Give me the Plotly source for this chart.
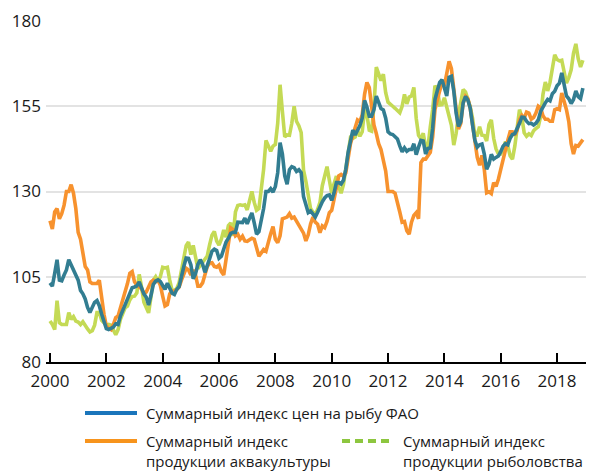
import plotly.graph_objects as go

# Monthly index values, January 2000 - December 2018
fao_index = [
    103.2, 102.2, 106.0, 110.0, 104.0, 103.8, 105.5, 107.0, 110.0, 108.5, 107.0, 106.0,
    104.0, 101.0, 100.0, 98.5, 96.0, 94.5, 96.0, 97.5, 98.0, 96.5, 94.0, 92.0,
    89.8, 89.5, 90.0, 90.2, 91.2, 91.0, 93.5, 95.2, 96.8, 98.8, 100.8, 101.8,
    102.0, 102.3, 103.5, 101.5, 100.0, 99.0, 96.7, 99.5, 102.7, 103.7, 104.1, 103.6,
    102.2, 101.3, 103.1, 101.5, 100.2, 99.8, 101.3, 102.1, 105.4, 108.0, 110.5, 110.4,
    108.5, 104.4, 105.9, 108.6, 110.0, 108.7, 106.3, 108.1, 110.3, 112.5, 113.1, 112.7,
    110.4, 111.0, 113.6, 115.2, 116.3, 117.7, 118.0, 118.0, 121.0, 121.0, 120.9, 122.2,
    120.5, 122.2, 123.7, 120.8, 117.5, 118.2, 121.2, 125.0, 130.0, 130.0, 130.8, 129.8,
    131.5, 135.5, 144.3, 141.0, 134.6, 132.1, 136.4, 137.3, 137.0, 135.9, 136.4, 135.5,
    128.5, 126.1, 123.8, 124.3, 123.2, 122.5, 123.9, 125.6, 127.0, 128.1, 128.8, 129.0,
    127.4, 129.6, 132.6, 132.6, 132.2, 133.3, 136.5, 141.5, 144.5, 148.0, 146.6, 148.0,
    149.3, 151.5, 156.7, 154.8, 152.1, 152.1, 154.0, 158.0, 156.0, 154.3, 153.9, 151.5,
    147.5, 146.9, 146.7, 146.1, 145.4, 143.4, 141.6, 142.8, 141.8, 142.3, 142.3, 144.0,
    140.8, 143.0, 145.0, 144.8, 141.0, 142.6, 142.8, 148.5, 157.0, 159.6, 162.0, 162.8,
    160.8, 158.0, 163.5, 163.8, 159.5, 153.0, 149.1, 150.5, 156.0, 157.9, 156.8, 154.5,
    149.5, 145.0, 143.0, 143.7, 143.9, 141.0, 136.5, 138.0, 140.9, 139.5, 140.0, 140.4,
    141.7, 143.3, 144.0, 143.7, 145.6, 146.7, 147.0, 148.3, 150.0, 151.8, 151.7, 150.6,
    149.9, 150.0, 149.5, 150.0, 151.0, 153.5, 155.0, 156.0, 157.0, 156.6, 158.7, 159.4,
    161.0, 161.8, 164.8, 161.5, 158.0, 157.2, 155.8, 157.0, 159.5, 157.8, 157.2, 160.3,
]

aquaculture_index = [
    121.4, 119.0, 124.0, 125.0, 122.0, 123.5, 126.0, 130.0, 130.0, 132.0, 129.5, 125.0,
    118.0, 116.0, 112.0, 108.0, 107.0, 103.5, 103.0, 103.0, 103.0, 104.0, 98.0, 94.0,
    90.5, 90.0, 89.5, 91.0, 93.0, 93.5, 96.0, 97.5, 100.0, 103.0, 106.0, 106.5,
    103.5, 102.5, 102.0, 101.5, 100.0, 100.5, 102.0, 103.5, 104.0, 103.5, 104.0, 102.5,
    99.3, 96.4, 96.8, 100.0, 100.8, 100.8, 101.2, 102.0, 104.0, 106.0, 107.5, 107.0,
    105.5, 107.0, 105.5, 102.2, 102.2, 103.2, 106.0, 108.0, 109.0, 109.1, 108.0, 107.8,
    108.4, 106.5, 105.5, 110.0, 114.5, 119.3, 118.8, 117.0, 117.5, 116.0, 116.9, 115.5,
    115.4, 116.0, 116.3, 116.0, 113.5, 111.0, 112.0, 113.0, 112.5, 115.5, 117.6, 119.7,
    116.0, 115.0, 117.0, 122.0, 122.2, 122.5, 123.5, 122.2, 122.5, 121.2, 120.0, 119.0,
    117.8, 115.5, 117.3, 120.5, 122.5, 121.0, 120.4, 117.9, 119.9, 119.4, 121.2, 123.8,
    124.5, 127.7, 130.8, 134.6, 135.0, 134.5, 135.5, 140.0, 144.0, 146.5, 148.5, 151.0,
    150.5, 152.5, 158.5, 162.0, 160.5, 154.0, 149.5, 147.0, 144.0, 142.3, 139.3, 136.0,
    130.0, 130.0, 130.0, 129.5, 127.0, 124.0, 121.0, 121.2, 118.5, 117.5, 121.0, 123.0,
    123.8, 122.0, 138.5, 139.5, 139.5, 140.3, 141.5, 146.0, 154.0, 157.0, 159.5, 162.0,
    161.0, 165.0, 168.2, 166.0, 160.0, 152.5, 148.3, 150.0, 156.0, 157.9, 157.2, 154.5,
    149.0, 144.2, 140.0, 137.7, 140.6, 136.5, 129.6, 129.9, 129.4, 132.6, 131.5, 133.6,
    136.5, 139.5, 143.0, 145.0, 147.5, 147.5, 146.5, 148.0, 151.0, 152.3, 151.5, 153.3,
    153.0, 151.2, 151.7, 153.0, 155.0, 154.5, 152.2, 151.2, 151.2, 150.6, 150.6, 154.0,
    154.3, 154.0, 158.9, 156.5, 154.0, 150.5, 144.0, 141.0, 143.5, 143.3, 144.5, 145.2,
]

capture_index = [
    92.0, 91.0, 89.5, 98.0, 91.5, 91.0, 91.0, 91.0, 94.5, 92.5, 93.3, 92.0,
    91.7, 91.0, 91.8, 90.6, 89.7, 88.8, 89.2, 90.8, 94.5, 94.5, 92.2, 91.5,
    90.8, 91.0, 90.8, 89.4, 88.0, 89.5, 92.5, 94.2, 95.9, 96.4, 98.2, 99.2,
    99.3, 100.3, 105.7, 102.0, 97.5, 96.0, 94.4, 99.0, 104.0, 105.0, 103.6, 105.0,
    107.8, 107.6, 107.8, 104.0, 101.0, 101.0, 101.6, 103.3, 107.0, 110.8, 114.1, 115.2,
    111.5, 114.2, 110.0, 107.4, 108.3, 109.2, 110.1, 111.1, 114.4, 117.2, 118.3, 115.5,
    114.3, 116.0, 118.7, 116.6, 120.0, 120.8, 117.0, 124.0, 125.9, 126.1, 125.9, 126.1,
    124.6, 127.5, 130.0, 126.8, 124.5, 125.0, 130.0, 136.5, 145.0, 143.0, 141.8, 143.3,
    143.8, 150.0, 161.3, 153.5, 146.0, 146.6, 146.5, 150.0, 155.0, 150.6, 149.3, 147.3,
    136.3, 133.0, 129.6, 125.0, 124.0, 123.0, 124.8, 126.8, 131.7, 134.3, 137.3, 133.3,
    129.5, 132.3, 134.5, 131.3, 129.5, 132.0, 136.5, 142.5, 145.8, 145.6, 146.0, 148.0,
    146.2, 147.5, 154.0, 152.5, 148.0, 147.7, 155.0, 166.5, 164.5, 162.5, 164.4, 159.0,
    156.2, 155.4, 155.0, 154.4, 153.6, 153.1, 155.0, 158.5, 155.7, 157.7, 158.0, 160.5,
    151.5, 146.5, 145.5, 147.1, 143.0, 143.0, 149.0, 154.0, 161.0, 160.0, 155.4, 155.5,
    157.5, 155.0, 152.1, 149.4, 143.6, 147.0, 152.5, 156.5, 159.9, 159.2, 157.2, 154.9,
    151.5, 146.5, 146.5, 149.0, 146.5, 146.4, 144.8, 149.6, 151.0, 145.6, 142.5, 141.0,
    141.0, 142.3, 144.6, 143.5, 140.5, 139.5, 143.3, 149.5, 154.0, 151.8, 147.2, 146.2,
    146.9, 146.4, 147.8, 148.5, 149.0, 152.0, 158.5, 162.1, 159.5, 162.0, 166.5, 170.1,
    168.7, 168.3, 168.5, 165.0, 161.8, 163.4, 165.7, 170.5, 173.3, 169.0, 166.5, 168.5,
]

start_year = 2000
months = [start_year + i / 12 for i in range(len(fao_index))]

x_ticks = list(range(2000, 2019, 2))
y_ticks = [80, 105, 130, 155, 180]

legend_labels = [
    "Суммарный индекс цен на рыбу ФАО",
    "Суммарный индекс<br>продукции аквакультуры",
    "Суммарный индекс<br>продукции рыболовства",
]

FONT = "Open Sans"
BLUE = "#327d91"
ORANGE = "#f7922e"
GREEN = "#c4da55"

fig = go.Figure()
fig.add_trace(go.Scatter(x=months, y=capture_index, mode="lines",
                         line=dict(color=GREEN, width=3.6), showlegend=False))
fig.add_trace(go.Scatter(x=months, y=aquaculture_index, mode="lines",
                         line=dict(color=ORANGE, width=3.6), showlegend=False))
fig.add_trace(go.Scatter(x=months, y=fao_index, mode="lines",
                         line=dict(color=BLUE, width=3.6), showlegend=False))

W, H = 591, 475
L, R, T, B = 46, 5, 21, 113
pw = W - L - R
ph = H - T - B


def px(xpix):
    return (xpix - L) / pw


def py(ypix):
    return (H - B - ypix) / ph


# manual legend
legend_items = [
    (85, 137, 413, "#1a75bb", "solid", 145, legend_labels[0]),
    (85, 137, 441, "#f7941d", "solid", 145, legend_labels[1]),
    (342, 390, 441, "#8dc63f", "dash", 402, legend_labels[2]),
]
for x0, x1, yy, col, dash, tx, label in legend_items:
    fig.add_shape(type="line", xref="paper", yref="paper",
                  x0=px(x0), x1=px(x1), y0=py(yy), y1=py(yy),
                  line=dict(color=col, width=4,
                            dash="solid" if dash == "solid" else "8px,5px"))
    fig.add_annotation(xref="paper", yref="paper", x=px(tx), y=py(yy - 11),
                       xanchor="left", yanchor="top", align="left", showarrow=False,
                       borderpad=0,
                       text=label, font=dict(family=FONT, size=15, color="#1a1a1a"))

fig.update_layout(
    width=W, height=H,
    margin=dict(l=L, r=R, t=T, b=B, pad=0),
    paper_bgcolor="white", plot_bgcolor="white",
    font=dict(family=FONT, size=17, color="#1a1a1a"),
    showlegend=False,
)
fig.update_xaxes(
    range=[2000 - 4 / 28.17, 2000 + (pw - 4) / 28.17],
    tickvals=x_ticks, ticktext=[str(v) for v in x_ticks],
    showgrid=False, zeroline=False,
    showline=True, linecolor="black", linewidth=2,
    ticks="inside", ticklen=9, tickwidth=1.5, tickcolor="black",
    ticklabelstandoff=3,
    tickfont=dict(family=FONT, size=17, color="#1a1a1a"),
)
fig.update_yaxes(
    range=[80, 180], tickvals=y_ticks,
    showgrid=True, gridcolor="#e3e3e3", gridwidth=2,
    zeroline=False, showline=False, ticks="",
    ticklabelstandoff=4,
    tickfont=dict(family=FONT, size=17, color="#1a1a1a"),
)

fig.write_html(
    "out.html",
    config={"displayModeBar": False},
    post_script="document.body.style.margin='0';document.body.style.padding='0';"
                "document.body.style.overflow='hidden';",
)
